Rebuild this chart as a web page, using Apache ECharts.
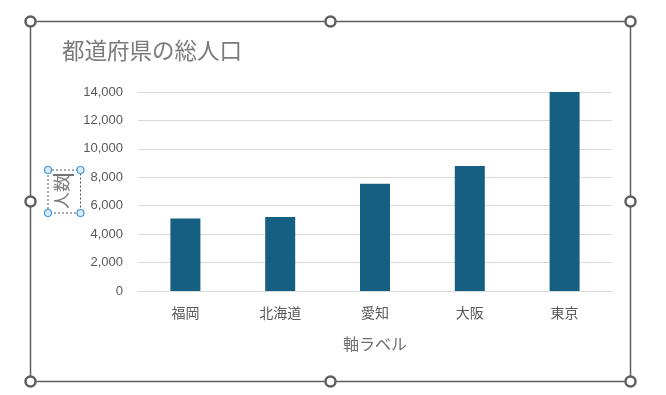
<!DOCTYPE html>
<html><head><meta charset="utf-8">
<script src="https://cdn.jsdelivr.net/npm/echarts@6/dist/echarts.min.js"></script>
<style>html,body{margin:0;padding:0;background:#fff;}#c{width:666px;height:395px;}</style>
</head><body><div id="c"></div>
<script>
const categories = ['福岡', '北海道', '愛知', '大阪', '東京'];
const population = [5100, 5200, 7550, 8800, 14000];
const yTicks = [0, 2000, 4000, 6000, 8000, 10000, 12000, 14000];
const chartTitle = '都道府県の総人口';
const xAxisTitle = '軸ラベル';
const yAxisTitle = '人数';

const FONT = '"Liberation Sans", "Noto Sans CJK JP", sans-serif';
const chart = echarts.init(document.getElementById('c'), null, {renderer: 'canvas'});

const handleStyle = {fill: '#fff', stroke: '#606060', lineWidth: 2.5};
const handles = [[30.5,21.5],[330.5,21.5],[630.5,21.5],[30.5,201.5],[630.5,201.5],[30.5,381.5],[330.5,381.5],[630.5,381.5]]
  .map(p => ({type: 'circle', shape: {cx: p[0], cy: p[1], r: 5}, style: handleStyle, z: 100}));
const blueStyle = {fill: '#dcecfb', stroke: '#3d95e0', lineWidth: 1.2};
const blueHandles = [[48,170],[80.5,170],[48,213],[80.5,213]]
  .map(p => ({type: 'circle', shape: {cx: p[0], cy: p[1], r: 3.5}, style: blueStyle, z: 101}));

chart.setOption({
  animation: false,
  title: {
    text: chartTitle, left: 57, top: 37,
    textStyle: {fontFamily: FONT, fontSize: 22.5, fontWeight: 'normal', color: '#7a7a7a'}
  },
  grid: {left: 138, right: 54, top: 92, bottom: 104, containLabel: false},
  xAxis: {
    type: 'category', data: categories,
    name: xAxisTitle, nameLocation: 'middle', nameGap: 47,
    nameTextStyle: {fontFamily: FONT, fontSize: 16, color: '#6e6e6e'},
    axisLine: {lineStyle: {color: '#d9d9d9', width: 1}},
    axisTick: {show: false},
    axisLabel: {fontFamily: FONT, fontSize: 14, color: '#595959', margin: 16}
  },
  yAxis: {
    type: 'value', min: yTicks[0], max: yTicks[yTicks.length - 1], interval: yTicks[1] - yTicks[0],
    axisLine: {show: false}, axisTick: {show: false},
    splitLine: {lineStyle: {color: '#d9d9d9', width: 1}},
    axisLabel: {fontFamily: FONT, fontSize: 13, color: '#595959', margin: 15,
      formatter: v => v.toLocaleString('en-US')}
  },
  series: [{
    type: 'bar', data: population, barWidth: 30,
    itemStyle: {color: '#156082'}
  }],
  graphic: [
    {type: 'rect', shape: {x: 30.5, y: 21.5, width: 600, height: 360},
     style: {fill: 'none', stroke: '#606060', lineWidth: 1.5}, z: 99},
    ...handles,
    {type: 'rect', shape: {x: 48, y: 170, width: 32.5, height: 43},
     style: {fill: 'none', stroke: '#555', lineWidth: 1, lineDash: [2, 2]}, z: 100},
    {type: 'text', x: 63, y: 192, rotation: Math.PI / 2,
     style: {text: yAxisTitle, fontFamily: FONT, fontSize: 17, fill: '#7a7a7a',
       align: 'center', verticalAlign: 'middle'}, z: 100},
    {type: 'line', shape: {x1: 53, y1: 175, x2: 74, y2: 175},
     style: {stroke: '#444', lineWidth: 1.5}, z: 100},
    ...blueHandles
  ]
});
</script></body></html>
